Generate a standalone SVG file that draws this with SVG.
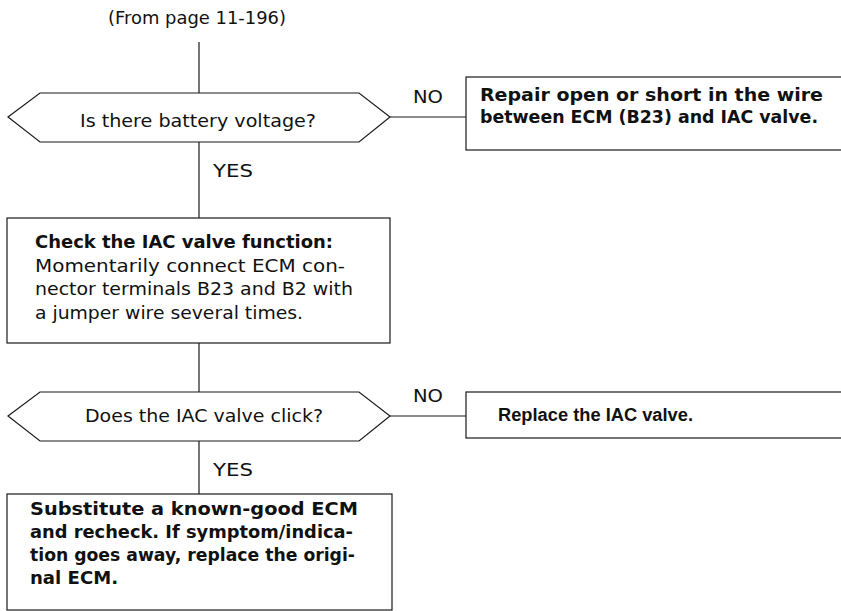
<svg xmlns="http://www.w3.org/2000/svg" width="841" height="611" viewBox="0 0 841 611">
<style>
.t{font-family:"DejaVu Sans","Liberation Sans",Arial,sans-serif;font-size:18px;fill:#111}
.b{font-weight:bold}
.n{font-family:"Liberation Sans",Arial,sans-serif}
.s{fill:#fff;stroke:#1a1a1a;stroke-width:1.2}
.c{fill:none;stroke:#1a1a1a;stroke-width:1.2}
</style>
<rect width="841" height="611" fill="#fff"/>
<g id="connectors">
  <line class="c" x1="199" y1="42" x2="199" y2="93"/>
  <line class="c" x1="199" y1="142" x2="199" y2="218"/>
  <line class="c" x1="199" y1="343" x2="199" y2="392"/>
  <line class="c" x1="199" y1="441" x2="199" y2="494"/>
  <line class="c" x1="390" y1="117" x2="466" y2="117"/>
  <line class="c" x1="390" y1="416" x2="466" y2="416"/>
  <text class="t" x="213" y="177" textLength="40" lengthAdjust="spacingAndGlyphs">YES</text>
  <text class="t" x="213" y="476" textLength="40" lengthAdjust="spacingAndGlyphs">YES</text>
  <text class="t" x="413" y="103" textLength="30" lengthAdjust="spacingAndGlyphs">NO</text>
  <text class="t" x="413" y="402" textLength="30" lengthAdjust="spacingAndGlyphs">NO</text>
</g>
<g id="start">
  <text class="t" x="108" y="24" style="font-size:17px" textLength="178" lengthAdjust="spacingAndGlyphs">(From page 11-196)</text>
</g>
<g id="q1">
  <polygon class="s" points="8,117 40,93 359,93 390,117 359,142 40,142"/>
  <text class="t" x="80" y="127" textLength="236" lengthAdjust="spacingAndGlyphs">Is there battery voltage?</text>
</g>
<g id="repair">
  <rect class="s" x="466" y="77" width="390" height="73"/>
  <text class="t b" x="480" y="101" textLength="343" lengthAdjust="spacingAndGlyphs">Repair open or short in the wire</text>
  <text class="t b" x="480" y="123" textLength="338" lengthAdjust="spacingAndGlyphs">between ECM (B23) and IAC valve.</text>
</g>
<g id="check">
  <rect class="s" x="7" y="218" width="383" height="125"/>
  <text class="t b" x="35" y="248" textLength="298" lengthAdjust="spacingAndGlyphs">Check the IAC valve function:</text>
  <text class="t" x="35" y="272" textLength="310" lengthAdjust="spacingAndGlyphs">Momentarily connect ECM con-</text>
  <text class="t" x="35" y="295" textLength="318" lengthAdjust="spacingAndGlyphs">nector terminals B23 and B2 with</text>
  <text class="t" x="35" y="319" textLength="268" lengthAdjust="spacingAndGlyphs">a jumper wire several times.</text>
</g>
<g id="q2">
  <polygon class="s" points="8,416 40,392 359,392 390,416 359,441 40,441"/>
  <text class="t" x="85" y="422" textLength="238" lengthAdjust="spacingAndGlyphs">Does the IAC valve click?</text>
</g>
<g id="replace">
  <rect class="s" x="466" y="392" width="390" height="46"/>
  <text class="t b n" x="498" y="421" textLength="195" lengthAdjust="spacingAndGlyphs">Replace the IAC valve.</text>
</g>
<g id="substitute">
  <rect class="s" x="7" y="494" width="385" height="116"/>
  <text class="t b" x="30" y="515" textLength="328" lengthAdjust="spacingAndGlyphs">Substitute a known-good ECM</text>
  <text class="t b" x="30" y="538" textLength="323" lengthAdjust="spacingAndGlyphs">and recheck. If symptom/indica-</text>
  <text class="t b" x="30" y="561" textLength="325" lengthAdjust="spacingAndGlyphs">tion goes away, replace the origi-</text>
  <text class="t b" x="30" y="584" textLength="88" lengthAdjust="spacingAndGlyphs">nal ECM.</text>
</g>
</svg>
